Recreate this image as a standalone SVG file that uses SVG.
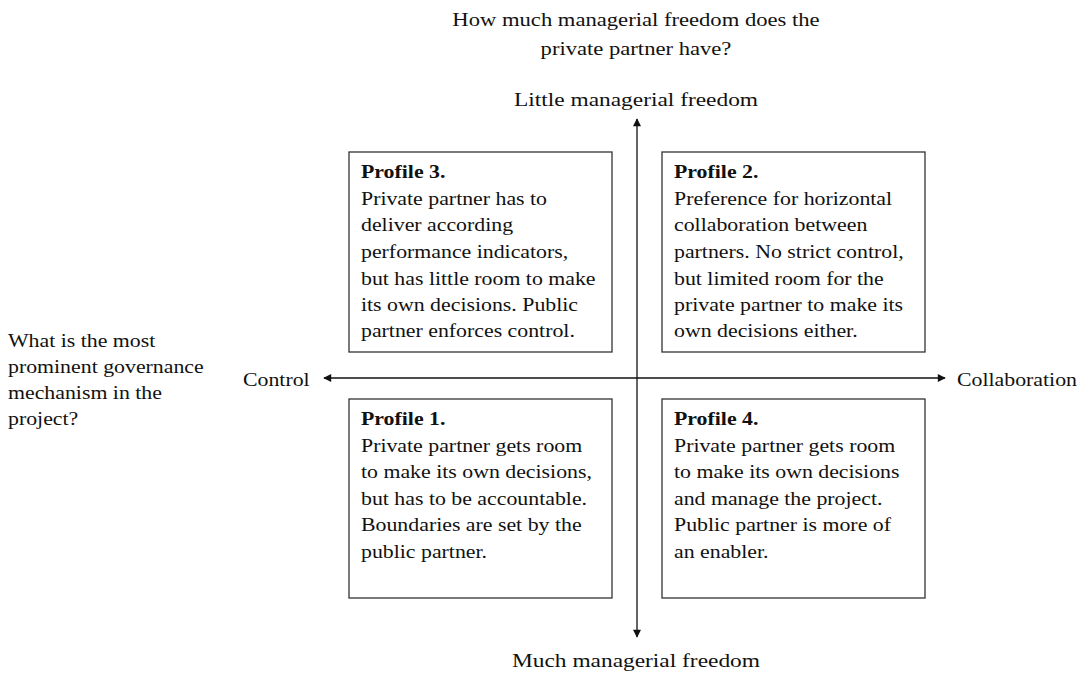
<svg xmlns="http://www.w3.org/2000/svg" width="1089" height="679" viewBox="0 0 1089 679">
<style>
text{font-family:"Liberation Serif","Times New Roman",serif;font-size:19.5px;fill:#111}
.b{font-weight:bold}
.c{text-anchor:middle}
.box{fill:#fff;stroke:#333;stroke-width:1.3}
.ax{stroke:#111;stroke-width:1.3;fill:none}
</style>
<defs>
<marker id="ah" viewBox="0 0 10 10" refX="9" refY="5" markerWidth="9" markerHeight="8" markerUnits="userSpaceOnUse" orient="auto">
<path d="M0,0 L10,5 L0,10 z" fill="#111"/>
</marker>
</defs>
<rect width="1089" height="679" fill="#fff"/>
<g id="connectors">
<line class="ax" x1="637" y1="378" x2="637" y2="119" marker-end="url(#ah)"/>
<line class="ax" x1="637" y1="378" x2="637" y2="637" marker-end="url(#ah)"/>
<line class="ax" x1="637" y1="378" x2="324" y2="378" marker-end="url(#ah)"/>
<line class="ax" x1="637" y1="378" x2="945" y2="378" marker-end="url(#ah)"/>
</g>
<g id="title" transform="translate(636,0) scale(1.16,1) translate(-636,0)">
<text class="c" x="636" y="26">How much managerial freedom does the</text>
<text class="c" x="636" y="55">private partner have?</text>
</g>
<g id="top-label" transform="translate(636,0) scale(1.2,1) translate(-636,0)"><text class="c" x="636" y="106">Little managerial freedom</text></g>
<g id="bottom-label" transform="translate(636,0) scale(1.2,1) translate(-636,0)"><text class="c" x="636" y="667">Much managerial freedom</text></g>
<g id="left-question" transform="translate(8,0) scale(1.12,1) translate(-8,0)">
<text x="8" y="347">What is the most</text>
<text x="8" y="373">prominent governance</text>
<text x="8" y="399">mechanism in the</text>
<text x="8" y="425">project?</text>
</g>
<g id="control-label" transform="translate(243,0) scale(1.12,1) translate(-243,0)"><text x="243" y="386">Control</text></g>
<g id="collab-label" transform="translate(957,0) scale(1.12,1) translate(-957,0)"><text x="957" y="386">Collaboration</text></g>
<g id="profile3">
<rect class="box" x="349" y="152" width="263" height="200"/>
<g transform="translate(361,0) scale(1.12,1) translate(-361,0)">
<text class="b" x="361" y="178">Profile 3.</text>
<text x="361" y="205">Private partner has to</text>
<text x="361" y="231">deliver according</text>
<text x="361" y="258">performance indicators,</text>
<text x="361" y="285">but has little room to make</text>
<text x="361" y="311">its own decisions. Public</text>
<text x="361" y="337">partner enforces control.</text>
</g>
</g>
<g id="profile2">
<rect class="box" x="662" y="152" width="263" height="200"/>
<g transform="translate(674,0) scale(1.12,1) translate(-674,0)">
<text class="b" x="674" y="178">Profile 2.</text>
<text x="674" y="205">Preference for horizontal</text>
<text x="674" y="231">collaboration between</text>
<text x="674" y="258">partners. No strict control,</text>
<text x="674" y="285">but limited room for the</text>
<text x="674" y="311">private partner to make its</text>
<text x="674" y="337">own decisions either.</text>
</g>
</g>
<g id="profile1">
<rect class="box" x="349" y="399" width="263" height="199"/>
<g transform="translate(361,0) scale(1.12,1) translate(-361,0)">
<text class="b" x="361" y="425">Profile 1.</text>
<text x="361" y="452">Private partner gets room</text>
<text x="361" y="478">to make its own decisions,</text>
<text x="361" y="505">but has to be accountable.</text>
<text x="361" y="531">Boundaries are set by the</text>
<text x="361" y="558">public partner.</text>
</g>
</g>
<g id="profile4">
<rect class="box" x="662" y="399" width="263" height="199"/>
<g transform="translate(674,0) scale(1.12,1) translate(-674,0)">
<text class="b" x="674" y="425">Profile 4.</text>
<text x="674" y="452">Private partner gets room</text>
<text x="674" y="478">to make its own decisions</text>
<text x="674" y="505">and manage the project.</text>
<text x="674" y="531">Public partner is more of</text>
<text x="674" y="558">an enabler.</text>
</g>
</g>
</svg>
